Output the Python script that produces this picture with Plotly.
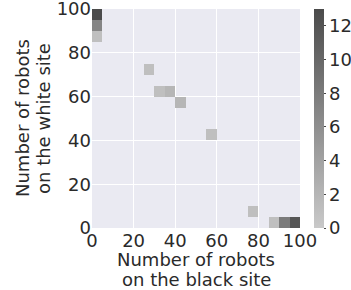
import numpy as np
import plotly.graph_objects as go

# bin lower edges (width 5) and counts
black_site_bin = [0, 0, 0, 25, 30, 35, 40, 55, 75, 85, 90, 95]
white_site_bin = [95, 90, 85, 70, 60, 60, 55, 40, 5, 0, 0, 0]
counts = [13, 7, 1, 1, 1, 2, 2, 1, 1, 1, 8, 12]
bin_width = 5
tick_vals = [0, 20, 40, 60, 80, 100]
cbar_ticks = [0, 2, 4, 6, 8, 10, 12]
x_title_lines = ["Number of robots", "on the black site"]
y_title_lines = ["Number of robots", "on the white site"]

edges = np.arange(0, 100 + bin_width, bin_width)
centers = edges[:-1] + bin_width / 2
z = np.full((len(centers), len(centers)), np.nan)
for bx, wy, c in zip(black_site_bin, white_site_bin, counts):
    z[int(wy // bin_width), int(bx // bin_width)] = c

text_col = "#2a2a2a"
font = dict(family="DejaVu Sans", size=18, color=text_col)

L, R, T, B = 91.5, 51, 9, 62

fig = go.Figure(go.Heatmap(
    x=centers, y=centers, z=z,
    zmin=0, zmax=13,
    colorscale=[[0, "#c9c9c9"], [1, "#4b4b4b"]],
    hoverongaps=False,
    colorbar=dict(
        x=(314 - L) / (351 - L - R), xanchor="left", y=0, yanchor="bottom",
        len=1, lenmode="fraction", thickness=10, xpad=0, ypad=0,
        outlinewidth=0, tickvals=cbar_ticks, ticks="outside",
        ticklen=2, tickcolor="#444444", tickfont=font,
    ),
))

annotations = []
for i, line in enumerate(x_title_lines):
    annotations.append(dict(
        text=line, xref="paper", yref="paper", x=0.5, y=0,
        xanchor="center", yanchor="middle", yshift=-(31 + 20 * i),
        showarrow=False, font=font))
for i, line in enumerate(y_title_lines):
    annotations.append(dict(
        text=line, xref="paper", yref="paper", x=0, y=0.5,
        xanchor="center", yanchor="middle", xshift=-(69.5 - 21 * i),
        textangle=-90, showarrow=False, font=font))

fig.update_layout(
    width=351, height=290,
    margin=dict(l=L, r=R, t=T, b=B, autoexpand=False),
    paper_bgcolor="white", plot_bgcolor="#EAEAF2",
    font=font, showlegend=False, annotations=annotations,
)
axis_common = dict(
    range=[0, 100], tickvals=tick_vals, showgrid=True, gridcolor="white",
    gridwidth=1.3, zeroline=False, showline=False, ticks="",
    tickfont=font, automargin=False, ticklabeloverflow="allow",
)
fig.update_xaxes(**axis_common)
fig.update_yaxes(**axis_common)

fig.write_html(
    "out.html",
    config={"displayModeBar": False},
    post_script="document.body.style.margin='0';document.body.style.overflow='hidden';",
)
